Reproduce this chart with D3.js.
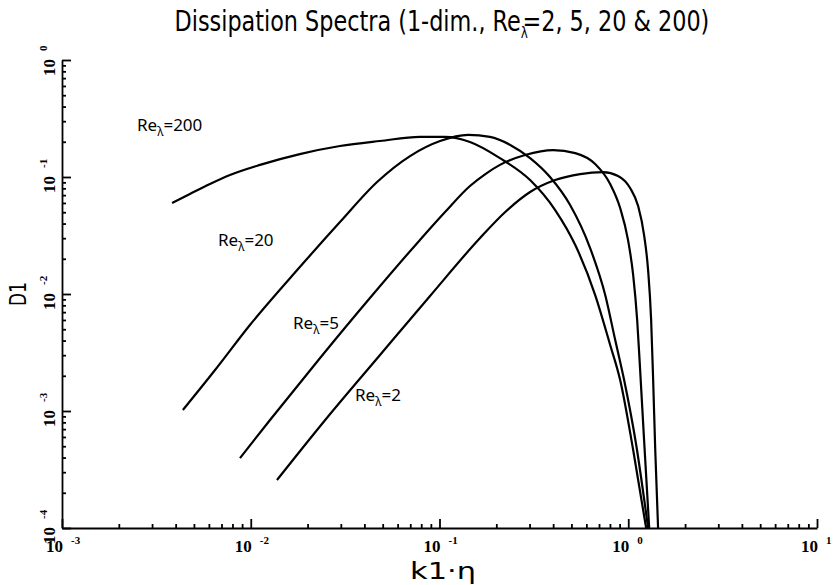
<!DOCTYPE html>
<html lang="en">
<head>
<meta charset="UTF-8">
<title>Dissipation Spectra</title>
<script src="https://cdnjs.cloudflare.com/ajax/libs/d3/7.8.5/d3.min.js"></script>
<style>
    body { margin: 0; background: #fff; }
    svg { display: block; }
    .axis path, .axis line { stroke: #000; stroke-width: 1.8px; }
    .curve { fill: none; stroke: #000; stroke-width: 2.2px; }
    .tick-ten { font-family: "Liberation Serif", serif; font-weight: bold; font-size: 17px; }
    .tick-exp { font-family: "Liberation Serif", serif; font-weight: bold; font-size: 11px; }
    .plot-font { font-family: "DejaVu Sans Condensed", "DejaVu Sans", sans-serif; }
    .re-label { font-family: "Noto Sans", "DejaVu Sans", sans-serif; font-size: 17px; }
</style>
</head>
<body>
<svg id="chart" width="836" height="585"></svg>
<script>
// k1*eta and D1, one pair of arrays per Re_lambda
const kRe200 = [0.00383, 0.00476, 0.00608, 0.00776, 0.0112, 0.0182, 0.0297, 0.0484, 0.0788, 0.107, 0.145, 0.209, 0.302, 0.410, 0.524, 0.668, 0.802, 0.906, 1.062, 1.244];
const dRe200 = [0.0600, 0.0716, 0.0871, 0.104, 0.127, 0.157, 0.184, 0.203, 0.220, 0.220, 0.199, 0.145, 0.0942, 0.0522, 0.0262, 0.0098, 0.00367, 0.00184, 0.000464, 0.0001];

const kRe20 = [0.00437, 0.00647, 0.00990, 0.0182, 0.0297, 0.0467, 0.0698, 0.1007, 0.142, 0.185, 0.237, 0.302, 0.385, 0.492, 0.628, 0.755, 0.853, 0.951, 1.102, 1.274];
const dRe20 = [0.00102, 0.00224, 0.00543, 0.0170, 0.0412, 0.0906, 0.151, 0.203, 0.229, 0.220, 0.188, 0.145, 0.100, 0.0576, 0.0247, 0.0098, 0.00404, 0.00184, 0.000512, 0.0001];

const kRe5 = [0.00877, 0.01265, 0.0233, 0.0428, 0.0788, 0.107, 0.145, 0.175, 0.209, 0.284, 0.400, 0.524, 0.668, 0.802, 0.906, 0.997, 1.062, 1.115, 1.156, 1.213, 1.291];
const dRe5 = [0.000396, 0.000838, 0.00284, 0.00924, 0.0290, 0.0502, 0.0838, 0.106, 0.127, 0.154, 0.170, 0.160, 0.129, 0.0871, 0.0543, 0.0290, 0.0145, 0.0060, 0.00224, 0.000565, 0.0001];

const kRe2 = [0.01377, 0.0248, 0.0484, 0.0891, 0.164, 0.223, 0.302, 0.410, 0.556, 0.736, 0.883, 1.023, 1.128, 1.213, 1.274, 1.322, 1.355, 1.390, 1.439];
const dRe2 = [0.000257, 0.000838, 0.00301, 0.00962, 0.0301, 0.0502, 0.0744, 0.0942, 0.106, 0.110, 0.102, 0.0805, 0.0565, 0.0319, 0.0160, 0.0060, 0.00184, 0.000464, 0.0001];

const xDecades = [-3, -2, -1, 0, 1];
const yDecades = [0, -1, -2, -3, -4];

// curve labels: Re value and where the label sits (left, baseline)
const reNames = ["200", "20", "5", "2"];
const reLabelPos = [[137, 131], [218, 246], [293, 329], [355, 401]];

const svg = d3.select("#chart");

const x = d3.scaleLog().domain([1e-3, 1e1]).range([62, 817]);
const y = d3.scaleLog().domain([1e-4, 1]).range([528, 60]);

function minorTicks(decades) {
    const out = [];
    decades.forEach(d => {
        for (let m = 2; m <= 9; m++) out.push(m * Math.pow(10, d));
    });
    return out;
}

const xMajor = xDecades.map(d => Math.pow(10, d));
const yMajor = yDecades.map(d => Math.pow(10, d));

// x axis, ticks pointing up into the plot
svg.append("g").attr("class", "axis").attr("transform", "translate(0,528)")
    .call(d3.axisBottom(x).tickValues(xMajor).tickSize(-9).tickSizeOuter(0).tickFormat(""));
svg.append("g").attr("class", "axis").attr("transform", "translate(0,528)")
    .call(d3.axisBottom(x).tickValues(minorTicks([-3, -2, -1, 0])).tickSize(-4).tickSizeOuter(0).tickFormat(""))
    .select(".domain").remove();

// y axis, ticks pointing right
svg.append("g").attr("class", "axis").attr("transform", "translate(62,0)")
    .call(d3.axisLeft(y).tickValues(yMajor).tickSize(-9).tickSizeOuter(0).tickFormat(""));
svg.append("g").attr("class", "axis").attr("transform", "translate(62,0)")
    .call(d3.axisLeft(y).tickValues(minorTicks([-4, -3, -2, -1])).tickSize(-4).tickSizeOuter(0).tickFormat(""))
    .select(".domain").remove();

// power-of-ten tick labels
xDecades.forEach(d => {
    const g = svg.append("g").attr("transform", `translate(${x(Math.pow(10, d)) + 1},552)`);
    g.append("text").attr("class", "tick-ten").attr("text-anchor", "end").text("10");
    g.append("text").attr("class", "tick-exp").attr("x", 8).attr("y", -8).text(d);
});
yDecades.forEach(d => {
    const g = svg.append("g").attr("transform", `translate(55,${y(Math.pow(10, d)) - 1}) rotate(-90)`);
    g.append("text").attr("class", "tick-ten").attr("text-anchor", "end").text("10");
    g.append("text").attr("class", "tick-exp").attr("x", 8).attr("y", -8).text(d);
});

// squeeze a text node to a given width, like the narrow plotter lettering
function fitWidth(node, cx, baseline, width, rotate) {
    const w = node.getBBox().width;
    const s = width / w;
    const rot = rotate ? " rotate(-90)" : "";
    d3.select(node).attr("transform", `translate(${cx},${baseline})${rot} scale(${s},1) translate(${-w / 2},0)`);
}

const title = svg.append("text").attr("class", "plot-font").attr("font-size", 28);
title.append("tspan").text("Dissipation Spectra (1-dim.,  Re");
title.append("tspan").attr("font-size", 15).attr("dy", 7).text("λ");
title.append("tspan").attr("dy", -7).attr("dx", -6).text("=2, 5, 20 & 200)");
fitWidth(title.node(), 442, 31, 535, false);

const yTitle = svg.append("text").attr("class", "plot-font").attr("font-size", 23).text("D1");
fitWidth(yTitle.node(), 26, 294, 24, true);

const xTitle = svg.append("text").attr("class", "plot-font").attr("font-size", 23).text("k1·η");
fitWidth(xTitle.node(), 443, 579, 66, false);

// the four spectra
const line = d3.line()
    .x(d => x(d[0]))
    .y(d => y(d[1]))
    .curve(d3.curveMonotoneX);

const series = [
    d3.zip(kRe200, dRe200),
    d3.zip(kRe20, dRe20),
    d3.zip(kRe5, dRe5),
    d3.zip(kRe2, dRe2)
];

svg.append("g").selectAll("path")
    .data(series)
    .enter().append("path")
    .attr("class", "curve")
    .attr("d", line);

reNames.forEach((name, i) => {
    const t = svg.append("text").attr("class", "re-label")
        .attr("x", reLabelPos[i][0]).attr("y", reLabelPos[i][1]);
    t.append("tspan").text("Re");
    t.append("tspan").attr("font-size", 12).attr("dy", 5).text("λ");
    t.append("tspan").attr("dy", -5).text("=" + name);
});
</script>
</body>
</html>
